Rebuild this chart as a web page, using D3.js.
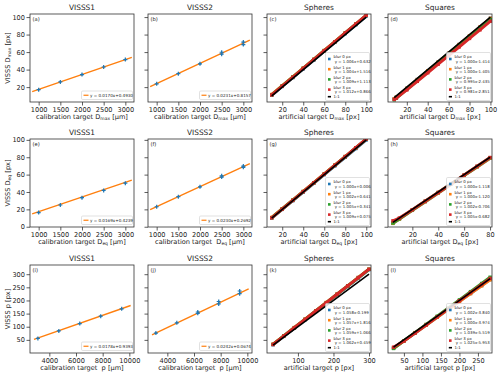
<!DOCTYPE html>
<html>
<head>
<meta charset="utf-8">
<script src="https://cdn.jsdelivr.net/npm/d3@7"></script>
<style>
body{margin:0;background:#fff}
text{font-family:"DejaVu Sans",sans-serif;white-space:pre}
</style>
</head>
<body>
<svg id="fig" width="500" height="375"></svg>
<script>
// calibration targets (VISSS1 / VISSS2 columns)
const calD = [1000, 1500, 2000, 2500, 3000];
const calP = [3142, 4712, 6283, 7854, 9425];
const v1DmaxY = [17.1, 25.9, 34.3, 43.0, 51.5];
const v2DmaxX = [1000, 1500, 2000, 2500, 2500, 3000, 3000];
const v2DmaxY = [23.8, 35.3, 46.6, 57.6, 59.8, 68.6, 71.4];
const v1DeqY = [16.3, 25.0, 33.4, 41.8, 50.2];
const v2DeqX = [1000, 1500, 2000, 2500, 2500, 3000, 3000];
const v2DeqY = [23.0, 34.6, 46.0, 57.2, 58.6, 68.4, 69.8];
const v1PY = [55.5, 84.0, 112.0, 140.0, 168.0];
const v2PX = [3142, 4712, 6283, 6283, 7854, 7854, 9425, 9425];
const v2PY = [76, 115, 151, 156, 187, 196, 226, 236];
const errD = 1.2, errP = 3.5;

// fits [slope, intercept]
const fitV1Dmax = [0.0170, 0.4930], fitV2Dmax = [0.0231, 0.8157];
const fitV1Deq = [0.0169, 0.4239], fitV2Deq = [0.0230, 0.2692];
const fitV1P = [0.0178, 0.9393], fitV2P = [0.0242, 0.0674];
const lineD = [850, 3150], lineP = [2850, 10100];

// artificial targets
const blurNames = ["blur 0 px", "blur 1 px", "blur 2 px", "blur 3 px"];
const sphDmaxX = [10, 20, 30, 40, 50, 60, 70, 80, 90, 100];
const sphDmaxY = [
  [10.7, 20.8, 30.8, 40.9, 50.9, 61.0, 71.1, 81.1, 91.2, 101.2],
  [11.6, 21.6, 31.6, 41.7, 51.7, 61.8, 71.8, 81.8, 91.9, 101.9],
  [11.2, 21.3, 31.4, 41.5, 51.6, 61.7, 71.7, 81.8, 91.9, 102.0],
  [11.0, 21.1, 31.2, 41.3, 51.5, 61.6, 71.7, 81.8, 92.0, 102.1]];
const sphDmaxLeg = ["1.006x+0.632", "1.004x+1.516", "1.009x+1.113", "1.012x+0.866"];
const sqDmaxX = [8, 10, 20, 30, 40, 50, 60, 70, 80, 90, 100];
const sqDmaxY = [
  [6.6, 8.6, 18.6, 28.6, 38.6, 48.6, 58.6, 68.6, 78.6, 88.6, 98.6],
  [6.6, 8.6, 18.6, 28.6, 38.6, 48.6, 58.6, 68.6, 78.6, 88.6, 98.6],
  [5.5, 7.5, 17.5, 27.4, 37.4, 47.3, 57.3, 67.2, 77.2, 87.1, 97.1],
  [6.0, 7.5, 16.8, 26.6, 36.4, 46.2, 56.0, 65.8, 75.6, 85.4, 95.3]];
const sqDmaxLeg = ["1.000x-1.414", "1.000x-1.405", "0.995x-2.435", "0.981x-2.851"];
const sphDeqX = [10, 20, 30, 40, 50, 60, 70, 80, 90, 100];
const sphDeqY = [
  [10.0, 20.0, 30.0, 40.0, 50.0, 60.0, 70.0, 80.0, 90.0, 100.0],
  [10.7, 20.7, 30.7, 40.7, 50.7, 60.8, 70.8, 80.8, 90.8, 100.8],
  [10.4, 20.4, 30.5, 40.5, 50.6, 60.6, 70.7, 80.7, 90.8, 100.8],
  [10.2, 20.3, 30.3, 40.4, 50.5, 60.6, 70.7, 80.8, 90.9, 101.0]];
const sphDeqLeg = ["1.000x+0.006", "1.002x+0.641", "1.005x+0.341", "1.009x+0.075"];
const sqDeqX = [5, 10, 20, 30, 40, 50, 60, 70, 80];
const sqDeqY = [
  [3.9, 8.9, 18.9, 28.9, 38.9, 48.9, 58.9, 68.9, 78.9],
  [3.9, 8.9, 18.9, 28.9, 38.9, 48.9, 58.9, 68.9, 78.9],
  [4.3, 9.3, 19.3, 29.4, 39.4, 49.4, 59.4, 69.4, 79.5],
  [6.8, 10.0, 19.6, 29.5, 39.5, 49.6, 59.6, 69.7, 79.7]];
const sqDeqLeg = ["1.000x-1.118", "1.000x-1.120", "1.002x-0.706", "1.005x-0.682"];
const sphPX = [30, 60, 90, 120, 150, 180, 210, 240, 270, 300];
const sphPY = [
  [31.5, 63.3, 95.0, 126.8, 158.5, 190.2, 222.0, 253.7, 285.5, 317.2],
  [33.5, 65.2, 96.9, 128.7, 160.4, 192.1, 223.8, 255.5, 287.2, 318.9],
  [32.8, 64.6, 96.4, 128.1, 159.9, 191.7, 223.5, 255.2, 287.0, 318.8],
  [32.3, 64.2, 96.0, 127.9, 159.8, 191.6, 223.5, 255.3, 287.2, 319.1]];
const sphPLeg = ["1.058x-0.199", "1.057x+1.816", "1.059x+1.066", "1.062x+0.459"];
const sqPX = [22, 50, 80, 110, 140, 170, 200, 230, 260, 283];
const sqPY = [
  [18.2, 46.3, 76.3, 106.4, 136.4, 166.5, 196.6, 226.6, 256.7, 279.7],
  [18.0, 46.0, 76.0, 106.0, 136.0, 166.0, 196.0, 226.0, 256.0, 279.0],
  [17.3, 46.4, 77.6, 108.8, 140.0, 171.1, 202.3, 233.5, 264.6, 288.5],
  [22.0, 45.3, 76.0, 106.8, 137.6, 168.3, 199.0, 229.8, 260.5, 284.1]];
const sqPLeg = ["1.002x-3.840", "1.000x-3.974", "1.039x-5.519", "1.025x-5.953"];

// axes ticks
const rowYDom = [[3, 103.5], [-0.3, 101], [0, 335]];
const rowYTicks = [[20, 40, 60, 80, 100], [0, 20, 40, 60, 80, 100], [50, 100, 150, 200, 250, 300]];
const rowYLab = [["VISSS D", "max", " [px]"], ["VISSS D", "eq", " [px]"], ["VISSS p", "", " [px]"]];
const calDTicks = [1000, 1500, 2000, 2500, 3000];
const calPTicks = [4000, 6000, 8000, 10000];

const colors = ["#1f77b4", "#ff7f0e", "#2ca02c", "#d62728"];
const W = 104, H = 88;
const colX = [30, 148, 267, 388];
const rowY = [14, 139, 265];

const panels = [
  {row:0,col:0,lt:"(a)",title:"VISSS1",kind:"cal",xdom:[800,3200],ticks:calDTicks,xs:calD,ys:v1DmaxY,err:errD,fit:fitV1Dmax,line:lineD,xl:["calibration target D","max"," [μm]"]},
  {row:0,col:1,lt:"(b)",title:"VISSS2",kind:"cal",xdom:[800,3200],ticks:calDTicks,xs:v2DmaxX,ys:v2DmaxY,err:errD,fit:fitV2Dmax,line:lineD,xl:["calibration target D","max"," [μm]"]},
  {row:0,col:2,lt:"(c)",title:"Spheres",kind:"sim",xdom:[5.5,104.5],ticks:[20,40,60,80,100],xs:sphDmaxX,ys:sphDmaxY,leg:sphDmaxLeg,xl:["artificial target D","max"," [px]"]},
  {row:0,col:3,lt:"(d)",title:"Squares",kind:"sim",xdom:[2,101.5],ticks:[20,40,60,80,100],xs:sqDmaxX,ys:sqDmaxY,leg:sqDmaxLeg,xl:["artificial target D","max"," [px]"]},
  {row:1,col:0,lt:"(e)",title:"VISSS1",kind:"cal",xdom:[800,3200],ticks:calDTicks,xs:calD,ys:v1DeqY,err:errD,fit:fitV1Deq,line:lineD,xl:["calibration target D","eq"," [μm]"]},
  {row:1,col:1,lt:"(f)",title:"VISSS2",kind:"cal",xdom:[800,3200],ticks:calDTicks,xs:v2DeqX,ys:v2DeqY,err:errD,fit:fitV2Deq,line:lineD,xl:["calibration target  D","eq"," [μm]"]},
  {row:1,col:2,lt:"(g)",title:"Spheres",kind:"sim",xdom:[5.5,104.5],ticks:[20,40,60,80,100],xs:sphDeqX,ys:sphDeqY,leg:sphDeqLeg,xl:["artificial target D","eq"," [px]"]},
  {row:1,col:3,lt:"(h)",title:"Squares",kind:"sim",xdom:[1.2,81.5],ticks:[20,40,60,80],xs:sqDeqX,ys:sqDeqY,leg:sqDeqLeg,xl:["artificial target D","eq"," [px]"]},
  {row:2,col:0,lt:"(i)",title:"VISSS1",kind:"cal",xdom:[2550,10350],ticks:calPTicks,xs:calP,ys:v1PY,err:errP,fit:fitV1P,line:lineP,xl:["calibration target  p","",""," [μm]"]},
  {row:2,col:1,lt:"(j)",title:"VISSS2",kind:"cal",xdom:[2550,10350],ticks:calPTicks,xs:v2PX,ys:v2PY,err:errP,fit:fitV2P,line:lineP,xl:["calibration target  p",""," [μm]"]},
  {row:2,col:2,lt:"(k)",title:"Spheres",kind:"sim",xdom:[13,305.6],ticks:[100,200,300],xs:sphPX,ys:sphPY,leg:sphPLeg,xl:["artificial target p",""," [px]"]},
  {row:2,col:3,lt:"(l)",title:"Squares",kind:"sim",xdom:[7,288],ticks:[50,100,150,200,250],xs:sqPX,ys:sqPY,leg:sqPLeg,xl:["artificial target p",""," [px]"]}
];

const svg = d3.select("#fig");
const defs = svg.append("defs");

function subText(t, parts) {
  t.append("tspan").text(parts[0]);
  if (parts[1]) {
    t.append("tspan").attr("font-size", "0.68em").attr("dy", "0.3em").text(parts[1]);
    t.append("tspan").attr("dy", "-0.2em").text(parts[parts.length - 1]);
  } else {
    t.append("tspan").text(parts[parts.length - 1]);
  }
}

panels.forEach((p, i) => {
  const x0 = colX[p.col], y0 = rowY[p.row];
  const x = d3.scaleLinear().domain(p.xdom).range([x0, x0 + W]);
  const y = d3.scaleLinear().domain(rowYDom[p.row]).range([y0 + H, y0]);
  const g = svg.append("g");

  defs.append("clipPath").attr("id", "clip" + i)
    .append("rect").attr("x", x0).attr("y", y0).attr("width", W).attr("height", H);
  const plot = g.append("g").attr("clip-path", "url(#clip" + i + ")");

  if (p.kind === "cal") {
    const fl = p.line.map(v => [v, p.fit[0] * v + p.fit[1]]);
    plot.append("path").attr("d", d3.line().x(d => x(d[0])).y(d => y(d[1]))(fl))
      .attr("stroke", colors[1]).attr("stroke-width", 1.4).attr("fill", "none");
    const pts = p.xs.map((v, k) => [v, p.ys[k]]);
    plot.selectAll(".eb").data(pts).enter().append("line")
      .attr("x1", d => x(d[0])).attr("x2", d => x(d[0]))
      .attr("y1", d => y(d[1] - p.err)).attr("y2", d => y(d[1] + p.err))
      .attr("stroke", colors[0]).attr("stroke-width", 1);
    plot.selectAll(".pt").data(pts).enter().append("path")
      .attr("d", d => `M${x(d[0]) - 2},${y(d[1])}h4M${x(d[0])},${y(d[1]) - 2}v4`)
      .attr("stroke", colors[0]).attr("stroke-width", 1.2);
  } else {
    p.ys.forEach((ys, b) => {
      const pts = p.xs.map((v, k) => [v, ys[k]]);
      plot.append("path").attr("d", d3.line().x(d => x(d[0])).y(d => y(d[1]))(pts))
        .attr("stroke", colors[b]).attr("stroke-width", 3).attr("fill", "none");
      plot.selectAll(".m" + b).data(pts).enter().append("rect")
        .attr("x", d => x(d[0]) - 1.7).attr("y", d => y(d[1]) - 1.7)
        .attr("width", 3.4).attr("height", 3.4).attr("fill", colors[b]);
    });
    const ext = d3.extent(p.xs);
    plot.append("line").attr("x1", x(ext[0])).attr("x2", x(ext[1]))
      .attr("y1", y(ext[0])).attr("y2", y(ext[1]))
      .attr("stroke", "#000").attr("stroke-width", 1.6);
  }

  // frame
  g.append("rect").attr("x", x0).attr("y", y0).attr("width", W).attr("height", H)
    .attr("fill", "none").attr("stroke", "#333").attr("stroke-width", 0.8);

  // axes
  const xa = g.append("g").attr("transform", `translate(0,${y0 + H})`)
    .call(d3.axisBottom(x).tickValues(p.ticks).tickSize(3.5).tickPadding(1.5).tickFormat(d3.format("d")));
  const ya = g.append("g").attr("transform", `translate(${x0},0)`)
    .call(d3.axisLeft(y).tickValues(rowYTicks[p.row]).tickSize(3.5).tickPadding(1.5)
      .tickFormat(p.col === 0 ? d3.format("d") : ""));
  [xa, ya].forEach(a => {
    a.select(".domain").remove();
    a.selectAll("line").attr("stroke", "#333").attr("stroke-width", 0.8);
    a.selectAll("text").attr("font-size", 6.6).attr("fill", "#222")
      .attr("font-family", "DejaVu Sans");
  });

  // title, letter, labels
  g.append("text").attr("x", x0 + W / 2).attr("y", y0 - 4).attr("text-anchor", "middle")
    .attr("font-size", 7.4).attr("fill", "#222").text(p.title);
  g.append("text").attr("x", x0 + 2.5).attr("y", y0 + 6.5)
    .attr("font-size", 5.2).attr("fill", "#222").text(p.lt);
  subText(g.append("text").attr("x", x0 + W / 2).attr("y", y0 + H + 17)
    .attr("text-anchor", "middle").attr("font-size", 6.6).attr("fill", "#222"), p.xl);
  if (p.col === 0) {
    subText(g.append("text").attr("transform", `translate(${x0 - 20},${y0 + H / 2}) rotate(-90)`)
      .attr("text-anchor", "middle").attr("font-size", 6.6).attr("fill", "#222"), rowYLab[p.row]);
  }

  // legends
  const lg = g.append("g");
  if (p.kind === "cal") {
    const bw = 51, bh = 8.5, bx = x0 + W - bw - 1.5, by = y0 + H - bh - 2.5;
    lg.append("rect").attr("x", bx).attr("y", by).attr("width", bw).attr("height", bh).attr("rx", 1.2)
      .attr("fill", "#fff").attr("fill-opacity", 0.85).attr("stroke", "#ccc").attr("stroke-width", 0.6);
    lg.append("line").attr("x1", bx + 2).attr("x2", bx + 7).attr("y1", by + bh / 2).attr("y2", by + bh / 2)
      .attr("stroke", colors[1]).attr("stroke-width", 1.2);
    lg.append("text").attr("x", bx + 8.5).attr("y", by + bh / 2 + 1.5).attr("font-size", 4.1).attr("fill", "#222")
      .text(`y = ${p.fit[0].toFixed(4)}x+${p.fit[1].toFixed(4)}`);
  } else {
    const bw = 44, bh = 48, bx = x0 + W - bw - 1.5, by = y0 + H - bh - 1.5;
    lg.append("rect").attr("x", bx).attr("y", by).attr("width", bw).attr("height", bh).attr("rx", 1.2)
      .attr("fill", "#fff").attr("fill-opacity", 0.85).attr("stroke", "#ccc").attr("stroke-width", 0.6);
    p.leg.forEach((s, b) => {
      const cy = by + 6.5 + b * 10.2;
      lg.append("rect").attr("x", bx + 2.5).attr("y", cy - 1.3).attr("width", 2.6).attr("height", 2.6).attr("fill", colors[b]);
      lg.append("text").attr("x", bx + 8).attr("y", cy - 0.6).attr("font-size", 3.9).attr("fill", "#222").text(blurNames[b]);
      lg.append("text").attr("x", bx + 8).attr("y", cy + 3.6).attr("font-size", 3.9).attr("fill", "#222").text(" y = " + s);
    });
    const cy = by + 44.2;
    lg.append("line").attr("x1", bx + 2.3).attr("x2", bx + 5.5).attr("y1", cy).attr("y2", cy)
      .attr("stroke", "#000").attr("stroke-width", 1.6);
    lg.append("text").attr("x", bx + 8).attr("y", cy + 1.4).attr("font-size", 3.9).attr("fill", "#222").text("1:1");
  }
});
</script>
</body>
</html>
